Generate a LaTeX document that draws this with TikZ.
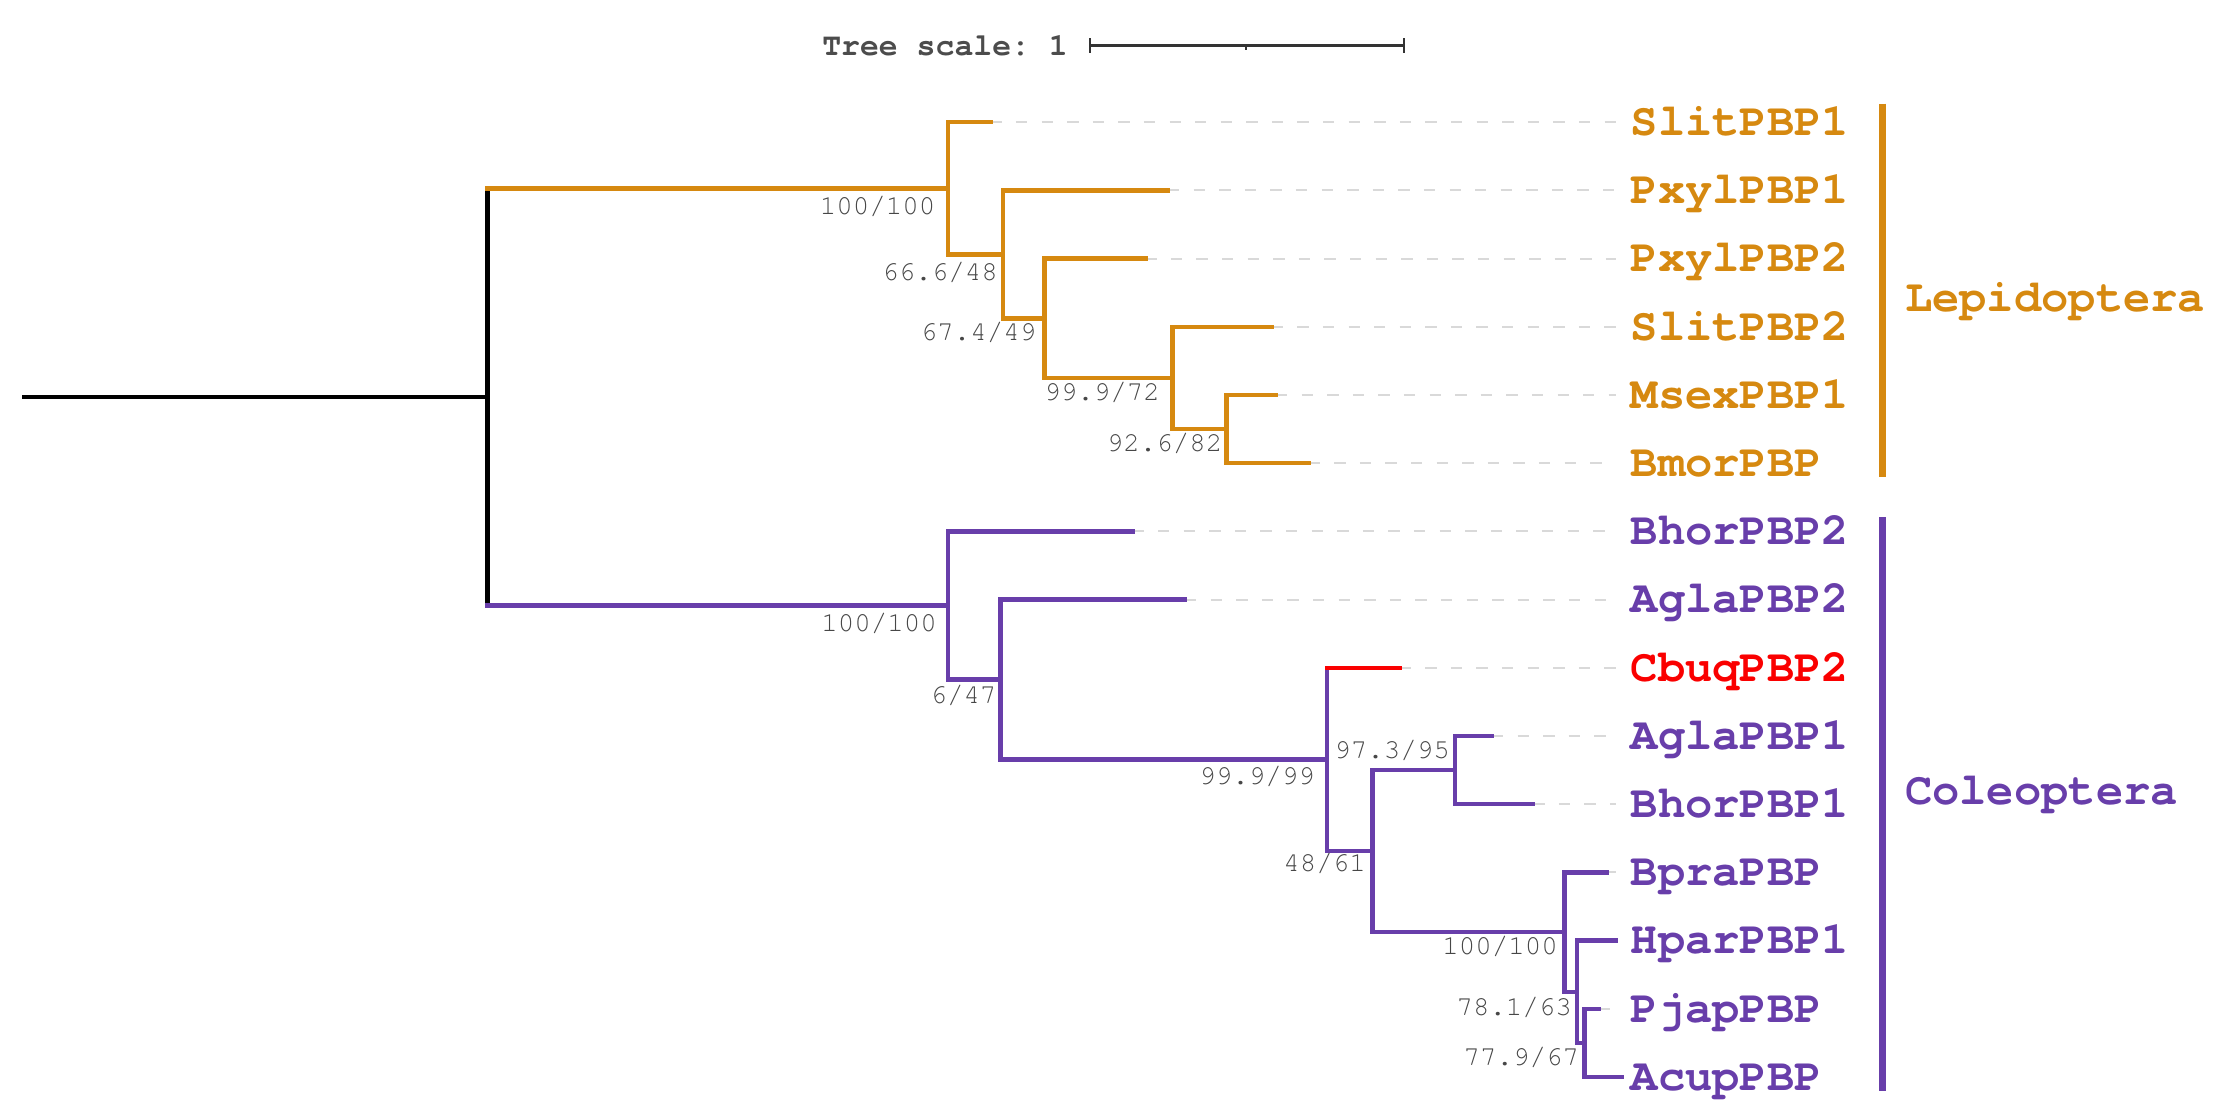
\documentclass[tikz,border=0pt]{standalone}
\usepackage{fontspec}
\setmonofont{TeX Gyre Cursor}
\usepackage{tikz}
\usetikzlibrary{positioning}
\definecolor{lepi}{RGB}{214,137,16}
\definecolor{coleo}{RGB}{104,62,170}
\definecolor{cbuq}{RGB}{250,0,0}

\begin{document}
\begin{tikzpicture}[
	x=0.01cm, y=-0.01cm,
	branch/.style={line width=0.9pt, line cap=rect},
	leader/.style={draw=gray!30, line width=0.4pt, dash pattern=on 0.08cm off 0.1cm},
	taxon/.style={anchor=west, inner sep=0pt, text height=5.3pt, text depth=0pt,
		font=\ttfamily\bfseries\fontsize{9.1}{9.1}\selectfont},
	support/.style={anchor=east, inner sep=0pt, text=black!72,
		font=\ttfamily\fontsize{5.5}{5.5}\selectfont},
	cladebar/.style={line width=1.5pt},
	scalebar/.style={line width=0.5pt, draw=black!80}
	]
	\useasboundingbox (0,0) rectangle (1568,788);
	
	% Scale bar
	\node[anchor=west, inner sep=0pt, text=black!70, font=\ttfamily\bfseries\fontsize{6.3}{6.3}\selectfont] (scaleText) at (578,32) {Tree scale: 1};
	\coordinate (scaleL) at (767,32);
	\coordinate (scaleM) at (877,32);
	\coordinate (scaleR) at (988,32);
	\draw[scalebar] (scaleL) -- (scaleR);
	\draw[scalebar] ([yshift=0.05cm]scaleL) -- ([yshift=-0.05cm]scaleL);
	\draw[scalebar] ([yshift=0.05cm]scaleR) -- ([yshift=-0.05cm]scaleR);
	\draw[scalebar] (scaleM) -- ([yshift=-0.03cm]scaleM);
	
	% Leaf tips
	\coordinate (tSlit1) at (697,86);
	\coordinate (tPxyl1) at (822,134);
	\coordinate (tPxyl2) at (806,182);
	\coordinate (tSlit2) at (895,230);
	\coordinate (tMsex1) at (898,278);
	\coordinate (tBmor) at (921,326);
	\coordinate (tBhor2) at (797,374);
	\coordinate (tAgla2) at (834,422);
	\coordinate (tCbuq) at (985,470);
	\coordinate (tAgla1) at (1050,518);
	\coordinate (tBhor1) at (1079,566);
	\coordinate (tBpra) at (1131,614);
	\coordinate (tHpar1) at (1137,662);
	\coordinate (tPjap) at (1125,710);
	\coordinate (tAcup) at (1141,758);
	
	% Inner nodes
	\coordinate (origin) at (17,279.3);
	\coordinate (nRoot) at (343,279.3);
	\coordinate (nA) at (667,132.5);
	\coordinate (nB) at (706,179);
	\coordinate (nC) at (735,224);
	\coordinate (nD) at (825,266);
	\coordinate (nE) at (863,302);
	\coordinate (nF) at (667,426.1);
	\coordinate (nG) at (704,478.25);
	\coordinate (nH) at (934,534.5);
	\coordinate (nI) at (966,599);
	\coordinate (nJ) at (1024,542);
	\coordinate (nK) at (1101,656);
	\coordinate (nL) at (1110,698);
	\coordinate (nM) at (1115,734);
	
	% Leaf labels
	\node[taxon, text=lepi] (lSlit1) at (1147,86) {SlitPBP1};
	\node[taxon, text=lepi] (lPxyl1) at (1147,134) {PxylPBP1};
	\node[taxon, text=lepi] (lPxyl2) at (1147,182) {PxylPBP2};
	\node[taxon, text=lepi] (lSlit2) at (1147,230) {SlitPBP2};
	\node[taxon, text=lepi] (lMsex1) at (1147,278) {MsexPBP1};
	\node[taxon, text=lepi] (lBmor) at (1147,326) {BmorPBP};
	\node[taxon, text=coleo] (lBhor2) at (1147,374) {BhorPBP2};
	\node[taxon, text=coleo] (lAgla2) at (1147,422) {AglaPBP2};
	\node[taxon, text=cbuq] (lCbuq) at (1147,470) {CbuqPBP2};
	\node[taxon, text=coleo] (lAgla1) at (1147,518) {AglaPBP1};
	\node[taxon, text=coleo] (lBhor1) at (1147,566) {BhorPBP1};
	\node[taxon, text=coleo] (lBpra) at (1147,614) {BpraPBP};
	\node[taxon, text=coleo] (lHpar1) at (1147,662) {HparPBP1};
	\node[taxon, text=coleo] (lPjap) at (1147,710) {PjapPBP};
	\node[taxon, text=coleo] (lAcup) at (1147,758) {AcupPBP};
	
	% Dashed leaders from tips to labels
	\draw[leader] (tSlit1) -- ([xshift=-0.1cm]lSlit1.west);
	\draw[leader] (tPxyl1) -- ([xshift=-0.1cm]lPxyl1.west);
	\draw[leader] (tPxyl2) -- ([xshift=-0.1cm]lPxyl2.west);
	\draw[leader] (tSlit2) -- ([xshift=-0.1cm]lSlit2.west);
	\draw[leader] (tMsex1) -- ([xshift=-0.1cm]lMsex1.west);
	\draw[leader] (tBmor) -- ([xshift=-0.1cm]lBmor.west);
	\draw[leader] (tBhor2) -- ([xshift=-0.1cm]lBhor2.west);
	\draw[leader] (tAgla2) -- ([xshift=-0.1cm]lAgla2.west);
	\draw[leader] (tCbuq) -- ([xshift=-0.1cm]lCbuq.west);
	\draw[leader] (tAgla1) -- ([xshift=-0.1cm]lAgla1.west);
	\draw[leader] (tBhor1) -- ([xshift=-0.1cm]lBhor1.west);
	\draw[leader] (tBpra) -- ([xshift=-0.1cm]lBpra.west);
	\draw[leader] (tPjap) -- ([xshift=-0.1cm]lPjap.west);
	
	% Root
	\draw[branch] (origin) -- (nRoot);
	\draw[branch] (nRoot |- nA) -- (nRoot |- nF);
	
	% Lepidoptera clade
	\draw[branch, lepi] (nRoot |- nA) -- (nA);
	\draw[branch, lepi] (tSlit1) -| (nA) |- (nB);
	\draw[branch, lepi] (tPxyl1) -| (nB) |- (nC);
	\draw[branch, lepi] (tPxyl2) -| (nC) |- (nD);
	\draw[branch, lepi] (tSlit2) -| (nD) |- (nE);
	\draw[branch, lepi] (tMsex1) -| (nE) |- (tBmor);
	
	% Coleoptera clade
	\draw[branch, coleo] (nRoot |- nF) -- (nF);
	\draw[branch, coleo] (tBhor2) -| (nF) |- (nG);
	\draw[branch, coleo] (tAgla2) -| (nG) |- (nH);
	\draw[branch, coleo] (tCbuq -| nH) |- (nI);
	\draw[branch, cbuq] (tCbuq -| nH) -- (tCbuq);
	\draw[branch, coleo] (nJ) -| (nI) |- (nK);
	\draw[branch, coleo] (tAgla1) -| (nJ) |- (tBhor1);
	\draw[branch, coleo] (tBpra) -| (nK) |- (nL);
	\draw[branch, coleo] (tHpar1) -| (nL) |- (nM);
	\draw[branch, coleo] (tPjap) -| (nM) |- (tAcup);
	
	% Support values
	\node[support] (sA) at ([shift={(-8,13)}]nA) {100/100};
	\node[support] (sB) at ([shift={(-3,13)}]nB) {66.6/48};
	\node[support] (sC) at ([shift={(-5,10)}]nC) {67.4/49};
	\node[support] (sD) at ([shift={(-8,10)}]nD) {99.9/72};
	\node[support] (sE) at ([shift={(-2,10)}]nE) {92.6/82};
	\node[support] (sF) at ([shift={(-7,13)}]nF) {100/100};
	\node[support] (sG) at ([shift={(-2,11)}]nG) {6/47};
	\node[support] (sH) at ([shift={(-8,12)}]nH) {99.9/99};
	\node[support] (sI) at ([shift={(-4,9)}]nI) {48/61};
	\node[support] (sJ) at ([shift={(-3,-14)}]nJ) {97.3/95};
	\node[support] (sK) at ([shift={(-4,10)}]nK) {100/100};
	\node[support] (sL) at ([shift={(-3,11)}]nL) {78.1/63};
	\node[support] (sM) at ([shift={(-3,10)}]nM) {77.9/67};
	
	% Clade bars and names
	\coordinate (lepiTop) at (1325,73);
	\coordinate (lepiBot) at (1325,336);
	\coordinate (coleoTop) at (1325,364);
	\coordinate (coleoBot) at (1325,768);
	\draw[cladebar, lepi] (lepiTop) -- (lepiBot);
	\draw[cladebar, coleo] (coleoTop) -- (coleoBot);
	\node[taxon, text=lepi] (lepiName) at (1340,210) {Lepidoptera};
	\node[taxon, text=coleo] (coleoName) at (1340,557) {Coleoptera};
	
\end{tikzpicture}
\end{document}
